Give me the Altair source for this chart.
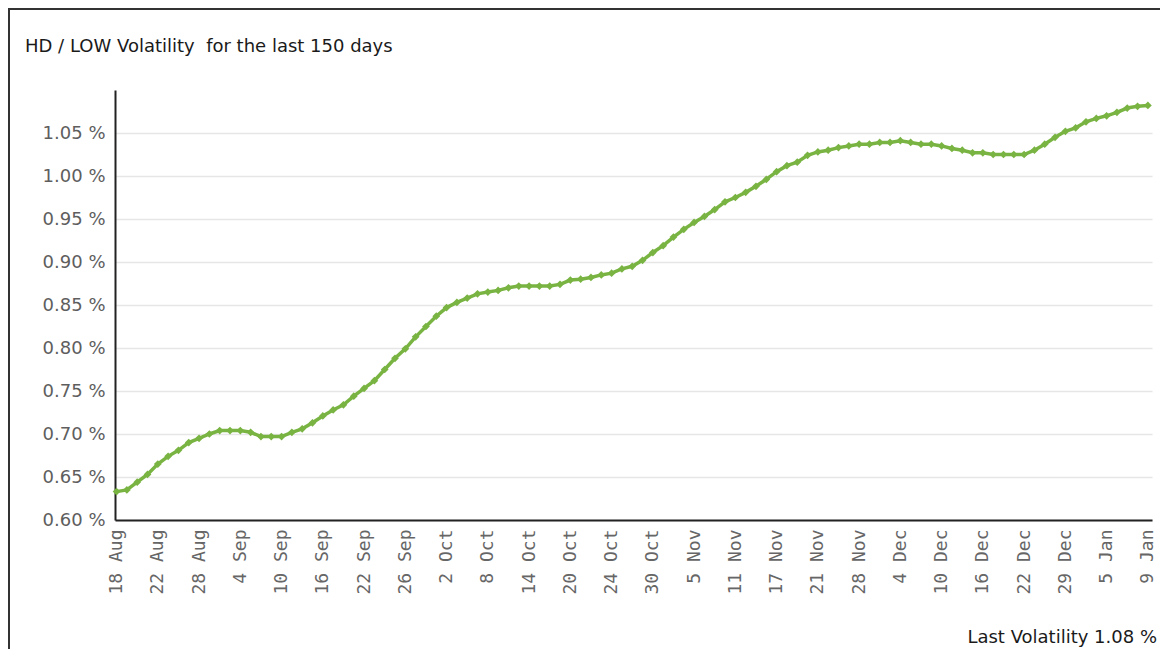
import json
import altair as alt
import pandas as pd

title_text = "HD / LOW Volatility \u00a0for the last 150 days"
footer_text = "Last Volatility 1.08 %"

tick_labels = ["18 Aug", "22 Aug", "28 Aug", "4 Sep", "10 Sep", "16 Sep", "22 Sep",
               "26 Sep", "2 Oct", "8 Oct", "14 Oct", "20 Oct", "24 Oct", "30 Oct",
               "5 Nov", "11 Nov", "17 Nov", "21 Nov", "28 Nov", "4 Dec", "10 Dec",
               "16 Dec", "22 Dec", "29 Dec", "5 Jan", "9 Jan"]

vol = [0.633, 0.635, 0.644, 0.653, 0.665, 0.674, 0.681, 0.690, 0.695, 0.700,
       0.704, 0.704, 0.704, 0.702, 0.697, 0.697, 0.697, 0.702, 0.706, 0.713,
       0.721, 0.728, 0.734, 0.744, 0.753, 0.762, 0.775, 0.788, 0.799, 0.813,
       0.825, 0.837, 0.847, 0.853, 0.858, 0.863, 0.865, 0.867, 0.870, 0.872,
       0.872, 0.872, 0.872, 0.874, 0.879, 0.880, 0.882, 0.885, 0.887, 0.892,
       0.895, 0.902, 0.911, 0.919, 0.929, 0.938, 0.946, 0.953, 0.961, 0.970,
       0.975, 0.981, 0.988, 0.996, 1.005, 1.012, 1.016, 1.024, 1.028, 1.030,
       1.033, 1.035, 1.037, 1.037, 1.039, 1.039, 1.041, 1.039, 1.037, 1.037,
       1.035, 1.032, 1.030, 1.027, 1.027, 1.025, 1.025, 1.025, 1.025, 1.030,
       1.037, 1.045, 1.052, 1.056, 1.063, 1.067, 1.070, 1.074, 1.079, 1.081,
       1.082]

y_ticks = [0.60, 0.65, 0.70, 0.75, 0.80, 0.85, 0.90, 0.95, 1.00, 1.05]

df = pd.DataFrame({"i": list(range(len(vol))), "v": vol})

W, H = 1037, 430
PAD = {"left": 107, "top": 82, "right": 8, "bottom": 129}
GREEN = "#79b443"

label_expr = json.dumps(tick_labels) + "[round(datum.value / 4)]"

x_enc = alt.X(
    "i:Q",
    scale=alt.Scale(domain=[-0.15, 100.4], nice=False, zero=False),
    axis=alt.Axis(
        values=list(range(0, len(vol), 4)),
        labelExpr=label_expr,
        labelAngle=270,
        labelFont="DejaVu Sans Mono",
        labelFontSize=18,
        labelColor="#666666",
        labelPadding=9,
        labelOverlap=False,
        labelFlush=False,
        ticks=False,
        grid=False,
        domainColor="#222222",
        domainWidth=2,
        title=None,
    ),
)

y_enc = alt.Y(
    "v:Q",
    scale=alt.Scale(domain=[0.60, 1.10], nice=False, zero=False),
    axis=alt.Axis(
        values=y_ticks,
        labelExpr="format(datum.value, '.2f') + ' %'",
        labelFont="DejaVu Sans",
        labelFontSize=18,
        labelColor="#5e5e5e",
        labelPadding=10,
        ticks=False,
        grid=True,
        gridColor="#e6e6e6",
        gridWidth=1.5,
        domainColor="#222222",
        domainWidth=2,
        title=None,
    ),
)

line = alt.Chart(df).mark_line(
    color=GREEN,
    strokeWidth=3.5,
    point=alt.OverlayMarkDef(shape="diamond", size=60, color=GREEN, filled=True, opacity=1),
).encode(x=x_enc, y=y_enc)

title_layer = alt.Chart(pd.DataFrame({"t": [title_text]})).mark_text(
    align="left", baseline="alphabetic", font="DejaVu Sans", fontSize=18, color="#1a1a1a"
).encode(text="t:N", x=alt.value(-90), y=alt.value(-38))

footer_layer = alt.Chart(pd.DataFrame({"t": [footer_text]})).mark_text(
    align="right", baseline="alphabetic", font="DejaVu Sans", fontSize=18, color="#1a1a1a"
).encode(text="t:N", x=alt.value(1042), y=alt.value(553))

frame_df = pd.DataFrame({"a": [0]})
border_top = alt.Chart(frame_df).mark_rule(color="#333333", strokeWidth=2).encode(
    x=alt.value(-107), x2=alt.value(1045), y=alt.value(-81)
)
border_left = alt.Chart(frame_df).mark_rule(color="#333333", strokeWidth=2).encode(
    x=alt.value(-106), y=alt.value(-82), y2=alt.value(559)
)

chart = alt.layer(line, title_layer, footer_layer, border_top, border_left).properties(
    width=W,
    height=H,
    padding=PAD,
    autosize=alt.AutoSizeParams(type="none"),
).configure_view(strokeWidth=0)

chart.save("out.html", embed_options={"renderer": "svg", "actions": False})
